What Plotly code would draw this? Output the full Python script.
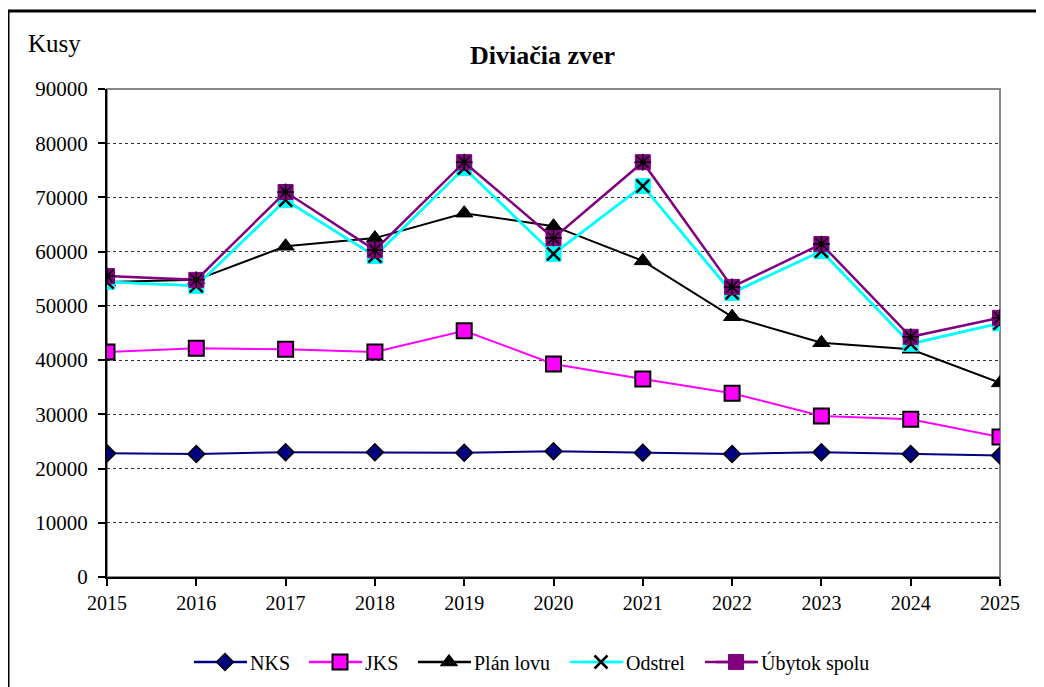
import plotly.graph_objects as go

years = [2015, 2016, 2017, 2018, 2019, 2020, 2021, 2022, 2023, 2024, 2025]
nks = [22800, 22700, 23000, 23000, 22900, 23200, 22900, 22700, 23000, 22700, 22400]
jks = [41500, 42200, 42000, 41500, 45400, 39300, 36500, 33900, 29700, 29100, 25800]
plan_lovu = [54400, 54800, 61000, 62500, 67100, 64700, 58300, 48000, 43200, 42000, 35800]
odstrel = [54400, 53700, 69500, 59200, 75400, 59600, 72100, 52400, 60100, 43000, 46800]
ubytok = [55500, 54800, 71000, 60300, 76500, 62500, 76500, 53500, 61400, 44300, 47800]
y_ticks = [0, 10000, 20000, 30000, 40000, 50000, 60000, 70000, 80000, 90000]
series_names = ["NKS", "JKS", "Plán lovu", "Odstrel", "Úbytok spolu"]

FONT = "Times New Roman, Liberation Serif, serif"
C_NKS, C_JKS, C_PLAN, C_ODS, C_UBY = "#000080", "#FF00FF", "black", "#00FFFF", "#800080"

fig = go.Figure()

fig.add_trace(go.Scatter(
    x=years, y=nks, name=series_names[0], mode="lines+markers",
    line=dict(color=C_NKS, width=2),
    marker=dict(symbol="diamond", size=13, color=C_NKS,
                line=dict(color="black", width=1.5)),
    legend="legend", legendgroup="nks"))

fig.add_trace(go.Scatter(
    x=years, y=jks, name=series_names[1], mode="lines+markers",
    line=dict(color=C_JKS, width=2),
    marker=dict(symbol="square", size=15, color=C_JKS,
                line=dict(color="black", width=2)),
    legend="legend2", legendgroup="jks"))

fig.add_trace(go.Scatter(
    x=years, y=plan_lovu, name=series_names[2], mode="lines+markers",
    line=dict(color=C_PLAN, width=2),
    marker=dict(symbol="triangle-up", size=15, color="black",
                line=dict(color="black", width=1)),
    legend="legend3", legendgroup="plan"))

fig.add_trace(go.Scatter(
    x=years, y=odstrel, name=series_names[3], mode="lines+markers",
    line=dict(color=C_ODS, width=2.5), showlegend=False,
    marker=dict(symbol="square", size=15, color=C_ODS,
                line=dict(color=C_ODS, width=1)),
    legend="legend4", legendgroup="odstrel"))
fig.add_trace(go.Scatter(
    x=years, y=odstrel, name=series_names[3], mode="lines+markers",
    line=dict(color=C_ODS, width=2.5),
    marker=dict(symbol="x-thin-open", size=13, color="black",
                line=dict(color="black", width=2.5)),
    legend="legend4", legendgroup="odstrel", hoverinfo="skip"))

fig.add_trace(go.Scatter(
    x=years, y=ubytok, name=series_names[4], mode="lines+markers",
    line=dict(color=C_UBY, width=2.5),
    marker=dict(symbol="square", size=15, color=C_UBY,
                line=dict(color=C_UBY, width=1)),
    legend="legend5", legendgroup="ubytok"))
fig.add_trace(go.Scatter(
    x=years, y=ubytok, mode="markers", showlegend=False,
    marker=dict(symbol="asterisk-open", size=14, color="black",
                line=dict(color="black", width=1.5)),
    legend="legend5", legendgroup="ubytok", hoverinfo="skip"))

# page body has an 8px margin, so work in reference pixels minus 8
OFF = 8
W, H = 1044 - OFF, 687 - OFF
L, T = 107 - OFF, 89 - OFF
R = W - (1000 - OFF)
B = H - (577 - OFF)
pw, ph = W - L - R, H - T - B

def px_x(x):
    return (x - OFF - L) / pw

def px_y(y):
    return (H - B - (y - OFF)) / ph

LEG_Y = 662
leg_starts = [194, 309, 418, 570, 705]
leg_colors = [C_NKS, C_JKS, C_PLAN, C_ODS, C_UBY]

shapes = [
    dict(type="rect", xref="paper", yref="paper",
         x0=px_x(8), x1=px_x(1070), y0=px_y(710), y1=px_y(11),
         line=dict(color="black", width=3), layer="below"),
    dict(type="rect", xref="paper", yref="paper",
         x0=0, x1=1, y0=0, y1=1,
         line=dict(color="#888888", width=2), layer="below"),
]
for xs, col in zip(leg_starts, leg_colors):
    shapes.append(dict(type="line", xref="paper", yref="paper",
                       x0=px_x(xs), x1=px_x(xs + 53),
                       y0=px_y(LEG_Y), y1=px_y(LEG_Y),
                       line=dict(color=col, width=2.5), layer="above"))

def leg(xpix):
    return dict(orientation="h", x=px_x(xpix + 6), xanchor="left",
                y=px_y(LEG_Y), yanchor="middle",
                font=dict(family=FONT, size=20, color="black"),
                itemwidth=40, bgcolor="rgba(0,0,0,0)")

fig.update_layout(
    width=W, height=H,
    margin=dict(l=L, r=R, t=T, b=B, autoexpand=False),
    paper_bgcolor="white", plot_bgcolor="white",
    font=dict(family=FONT, size=18, color="black"),
    showlegend=True,
    legend=leg(leg_starts[0]), legend2=leg(leg_starts[1]),
    legend3=leg(leg_starts[2]), legend4=leg(leg_starts[3]),
    legend5=leg(leg_starts[4]),
    shapes=shapes,
    annotations=[
        dict(text="<b>Diviačia zver</b>", xref="paper", yref="paper",
             x=px_x(542), y=px_y(56), xanchor="center", yanchor="middle",
             showarrow=False, font=dict(family=FONT, size=26, color="black")),
        dict(text="Kusy", xref="paper", yref="paper",
             x=px_x(26), y=px_y(43), xanchor="left", yanchor="middle",
             showarrow=False, font=dict(family=FONT, size=25, color="black")),
    ],
    xaxis=dict(
        range=[2015, 2025], tickmode="array", tickvals=years,
        ticktext=[str(y) for y in years],
        showgrid=False, zeroline=False,
        showline=True, linecolor="black", linewidth=2,
        ticks="outside", ticklen=7, tickcolor="black", tickwidth=1.5,
        tickfont=dict(family=FONT, size=20, color="black"),
    ),
    yaxis=dict(
        range=[0, 90000], tickmode="array", tickvals=y_ticks,
        ticktext=[str(v) for v in y_ticks],
        showgrid=True, gridcolor="#333333", gridwidth=1, griddash="dot",
        zeroline=False,
        showline=True, linecolor="black", linewidth=2,
        ticks="outside", ticklen=7, tickcolor="black", tickwidth=1.5,
        ticklabelstandoff=6,
        tickfont=dict(family=FONT, size=21, color="black"),
    ),
)

fig.write_html("out.html")
